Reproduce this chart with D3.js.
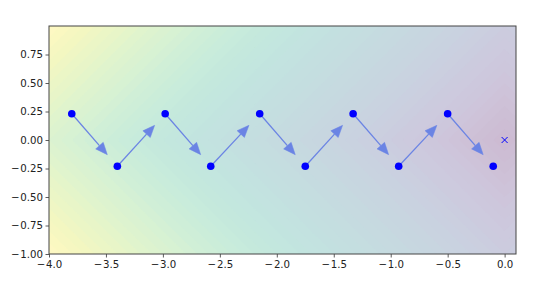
<!DOCTYPE html>
<html><head><meta charset="utf-8">
<script src="https://cdn.jsdelivr.net/npm/d3@7"></script>
<style>body{margin:0;background:#fff}svg{display:block}text{font-family:"DejaVu Sans",sans-serif}</style>
</head><body>
<script>
// Data
const pointX = [-3.80, -3.40, -2.98, -2.58, -2.15, -1.75, -1.33, -0.93, -0.50, -0.10];
const pointY = [0.23, -0.23, 0.23, -0.23, 0.23, -0.23, 0.23, -0.23, 0.23, -0.23];
const targetX = [0.0];
const targetY = [0.0];
const xTicks = [-4.0, -3.5, -3.0, -2.5, -2.0, -1.5, -1.0, -0.5, 0.0];
const yTicks = [-1.00, -0.75, -0.50, -0.25, 0.00, 0.25, 0.50, 0.75];
const xDomain = [-4, 0.1];
const yDomain = [-1, 1];

const W = 553, H = 285;
const m = {left: 49, right: 37, top: 26, bottom: 31};
const pw = W - m.left - m.right, ph = H - m.top - m.bottom;

const svg = d3.select("body").append("svg").attr("width", W).attr("height", H);
const x = d3.scaleLinear().domain(xDomain).range([m.left, m.left + pw]);
const y = d3.scaleLinear().domain(yDomain).range([m.top + ph, m.top]);

svg.append("defs").append("clipPath").attr("id", "clip")
  .append("rect").attr("x", m.left).attr("y", m.top).attr("width", pw).attr("height", ph);

// background contour field f = |x| + |y|
const nx = 300, ny = 150;
const gx0 = -4.2, gx1 = 0.3, gy0 = -1.2, gy1 = 1.2;
const sx = (gx1 - gx0) / (nx - 1), sy = (gy1 - gy0) / (ny - 1);
const vals = new Array(nx * ny);
for (let j = 0; j < ny; j++) for (let i = 0; i < nx; i++) {
  const xv = gx0 + i * sx, yv = gy1 - j * sy;
  vals[j * nx + i] = Math.abs(xv) + Math.abs(yv);
}
const levels = d3.range(0, 5.01, 0.1);
const contours = d3.contours().size([nx, ny]).thresholds(levels)(vals);
const proj = d3.geoTransform({point: function(px, py) {
  this.stream.point(x(gx0 + (px - 0.5) * sx), y(gy1 - (py - 0.5) * sy));
}});
const path = d3.geoPath(proj);
const alpha = 0.27;
const cmap = t => {
  const c = d3.rgb(d3.interpolateViridis(t));
  return d3.rgb(255 + (c.r - 255) * alpha, 255 + (c.g - 255) * alpha, 255 + (c.b - 255) * alpha).toString();
};
svg.append("g").attr("clip-path", "url(#clip)")
  .selectAll("path").data(contours).join("path")
  .attr("d", path)
  .attr("fill", d => cmap(Math.min(1, (d.value + 0.05) / 5)))
  .attr("stroke", d => cmap(Math.min(1, (d.value + 0.05) / 5)))
  .attr("stroke-width", 0.5);

// arrows
const arrowColor = "#6b84e4";
const g = svg.append("g");
for (let i = 0; i < pointX.length - 1; i++) {
  const x1 = x(pointX[i]), y1 = y(pointY[i]);
  const x2 = x(pointX[i + 1]), y2 = y(pointY[i + 1]);
  const f = 0.78;
  const tx = x1 + (x2 - x1) * f, ty = y1 + (y2 - y1) * f;
  const ang = Math.atan2(ty - y1, tx - x1);
  const hl = 12, hw = 5;
  const bx = tx - hl * Math.cos(ang), by = ty - hl * Math.sin(ang);
  g.append("line").attr("x1", x1).attr("y1", y1).attr("x2", bx).attr("y2", by)
    .attr("stroke", arrowColor).attr("stroke-width", 1.3);
  const px = -Math.sin(ang), py = Math.cos(ang);
  g.append("path")
    .attr("d", `M${tx},${ty}L${bx + px * hw},${by + py * hw}L${bx - px * hw},${by - py * hw}Z`)
    .attr("fill", arrowColor).attr("stroke", arrowColor).attr("stroke-width", 0.5);
}

// points
svg.append("g").selectAll("circle").data(pointX).join("circle")
  .attr("cx", (d) => x(d)).attr("cy", (d, i) => y(pointY[i])).attr("r", 3.8)
  .attr("fill", "#0000ff");

// target x marker
targetX.forEach((tx, i) => {
  const cx = x(tx), cy = y(targetY[i]), s = 3;
  svg.append("path").attr("d", `M${cx - s},${cy - s}L${cx + s},${cy + s}M${cx - s},${cy + s}L${cx + s},${cy - s}`)
    .attr("stroke", "#0000ff").attr("stroke-width", 1);
});

// axes
const xAxis = d3.axisBottom(x).tickValues(xTicks).tickSize(3.5).tickPadding(3.5);
const yAxis = d3.axisLeft(y).tickValues(yTicks).tickSize(3.5).tickPadding(2.5);
const gxA = svg.append("g").attr("transform", `translate(0,${m.top + ph})`).call(xAxis);
const gyA = svg.append("g").attr("transform", `translate(${m.left},0)`).call(yAxis);
[gxA, gyA].forEach(a => {
  a.select(".domain").remove();
  a.selectAll("line").attr("stroke", "#333").attr("stroke-width", 0.8);
  a.selectAll("text").attr("fill", "#222").style("font-size", "10.2px").style("font-family", "DejaVu Sans");
});
function label(sel, fmt) {
  sel.each(function(d) {
    const t = d3.select(this).text(null);
    const s = fmt(Math.abs(d));
    if (d < 0) {
      t.append("tspan").text("\u2212");
      t.append("tspan").attr("dx", 0.8).text(s);
    } else {
      t.append("tspan").text(s);
    }
  });
}
label(gxA.selectAll("text"), d3.format(".1f"));
label(gyA.selectAll("text"), d3.format(".2f"));

svg.append("rect").attr("x", m.left).attr("y", m.top).attr("width", pw).attr("height", ph)
  .attr("fill", "none").attr("stroke", "#444").attr("stroke-width", 1);
</script>
</body></html>
